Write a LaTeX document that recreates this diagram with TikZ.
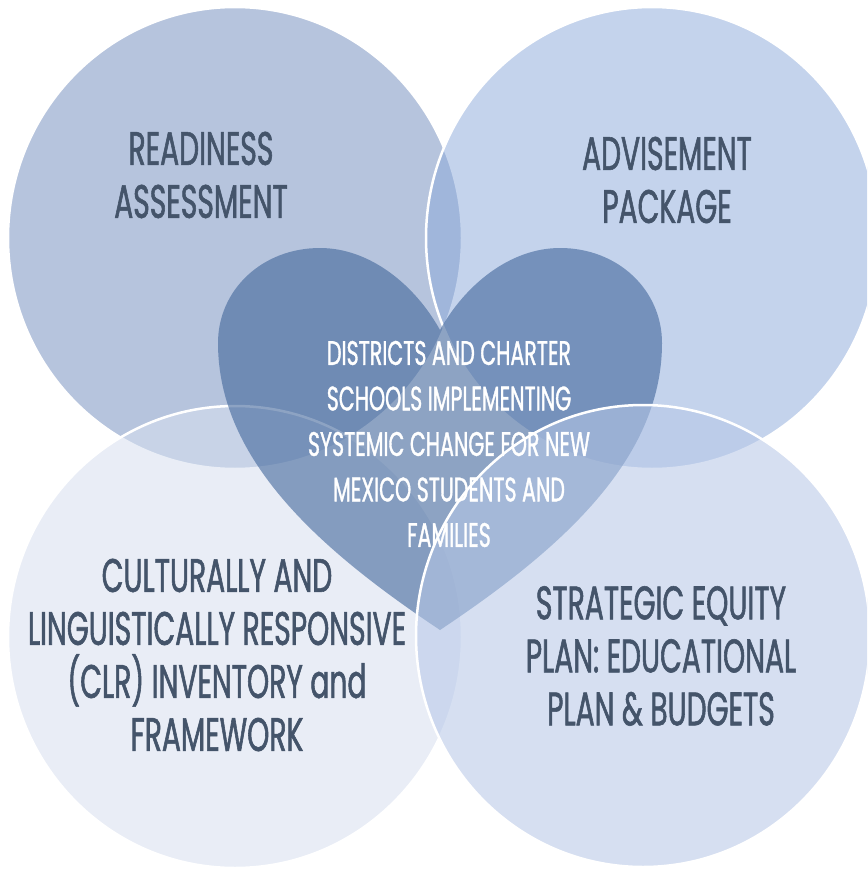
\documentclass[tikz,border=0pt]{standalone}
\usepackage{fontspec}
\newfontfamily\lblfont{Poppins}[FakeStretch=0.6, FakeBold=1.2]
\newfontfamily\ctrfont{Poppins}[FakeStretch=0.605, FakeBold=1]
\definecolor{txt}{HTML}{44546A}
\definecolor{cTL}{RGB}{182,196,221}
\definecolor{cTR}{RGB}{139,169,219}
\definecolor{cBL}{RGB}{215,224,240}
\definecolor{cBR}{RGB}{183,200,232}
\definecolor{cH}{RGB}{60,98,152}
\tikzset{
  ring/.style={draw=white, line width=2.5pt},
  lbl/.style={font=\lblfont\fontsize{47}{53}\selectfont, text=txt, align=center, inner sep=0pt},
  ctr/.style={font=\ctrfont\fontsize{34}{45.5}\selectfont, align=center, inner sep=0pt},
}
\begin{document}
\begin{tikzpicture}[x=1pt,y=-1pt]
\useasboundingbox (0,0) rectangle (867,869);
\clip (0,0) rectangle (867,869);
\fill[white] (0,0) rectangle (867,869);
% circles
\path[fill=cTL, ring] (235,238) ellipse [x radius=227pt, y radius=231pt];
\path[fill=cTR, fill opacity=0.5, ring] (652,238) ellipse [x radius=226pt, y radius=231pt];
\path[fill=cBL, fill opacity=0.55, ring] (235,637) ellipse [x radius=227pt, y radius=231pt];
% heart
\fill[cH, fill opacity=0.58]
  (440,330) .. controls (415,285) and (370,248) .. (320,248)
  .. controls (262,248) and (218,290) .. (218,343)
  .. controls (218,460) and (320,550) .. (440,630)
  .. controls (560,550) and (662,460) .. (662,343)
  .. controls (662,290) and (618,248) .. (560,248)
  .. controls (510,248) and (465,285) .. (440,330) -- cycle;
\path[fill=cBR, fill opacity=0.57, ring] (643,636) ellipse [x radius=227pt, y radius=231pt];
% labels
\node[lbl] (readiness) at (201,175) {READINESS\\ASSESSMENT};
\node[lbl] (advisement) at (667,180) {ADVISEMENT\\PACKAGE};
\node[lbl] (clr) at (217,655) {CULTURALLY AND\\LINGUISTICALLY RESPONSIVE\\(CLR) INVENTORY and\\FRAMEWORK};
\node[lbl] (strategic) at (661,656) {STRATEGIC EQUITY\\PLAN: EDUCATIONAL\\PLAN \& BUDGETS};
% centre text
\node[ctr, text=white] (center) at (449,444) {DISTRICTS AND CHARTER\\SCHOOLS IMPLEMENTING\\SYSTEMIC CHANGE FOR NEW\\MEXICO STUDENTS AND\\FAMILIES};
\end{tikzpicture}
\end{document}
